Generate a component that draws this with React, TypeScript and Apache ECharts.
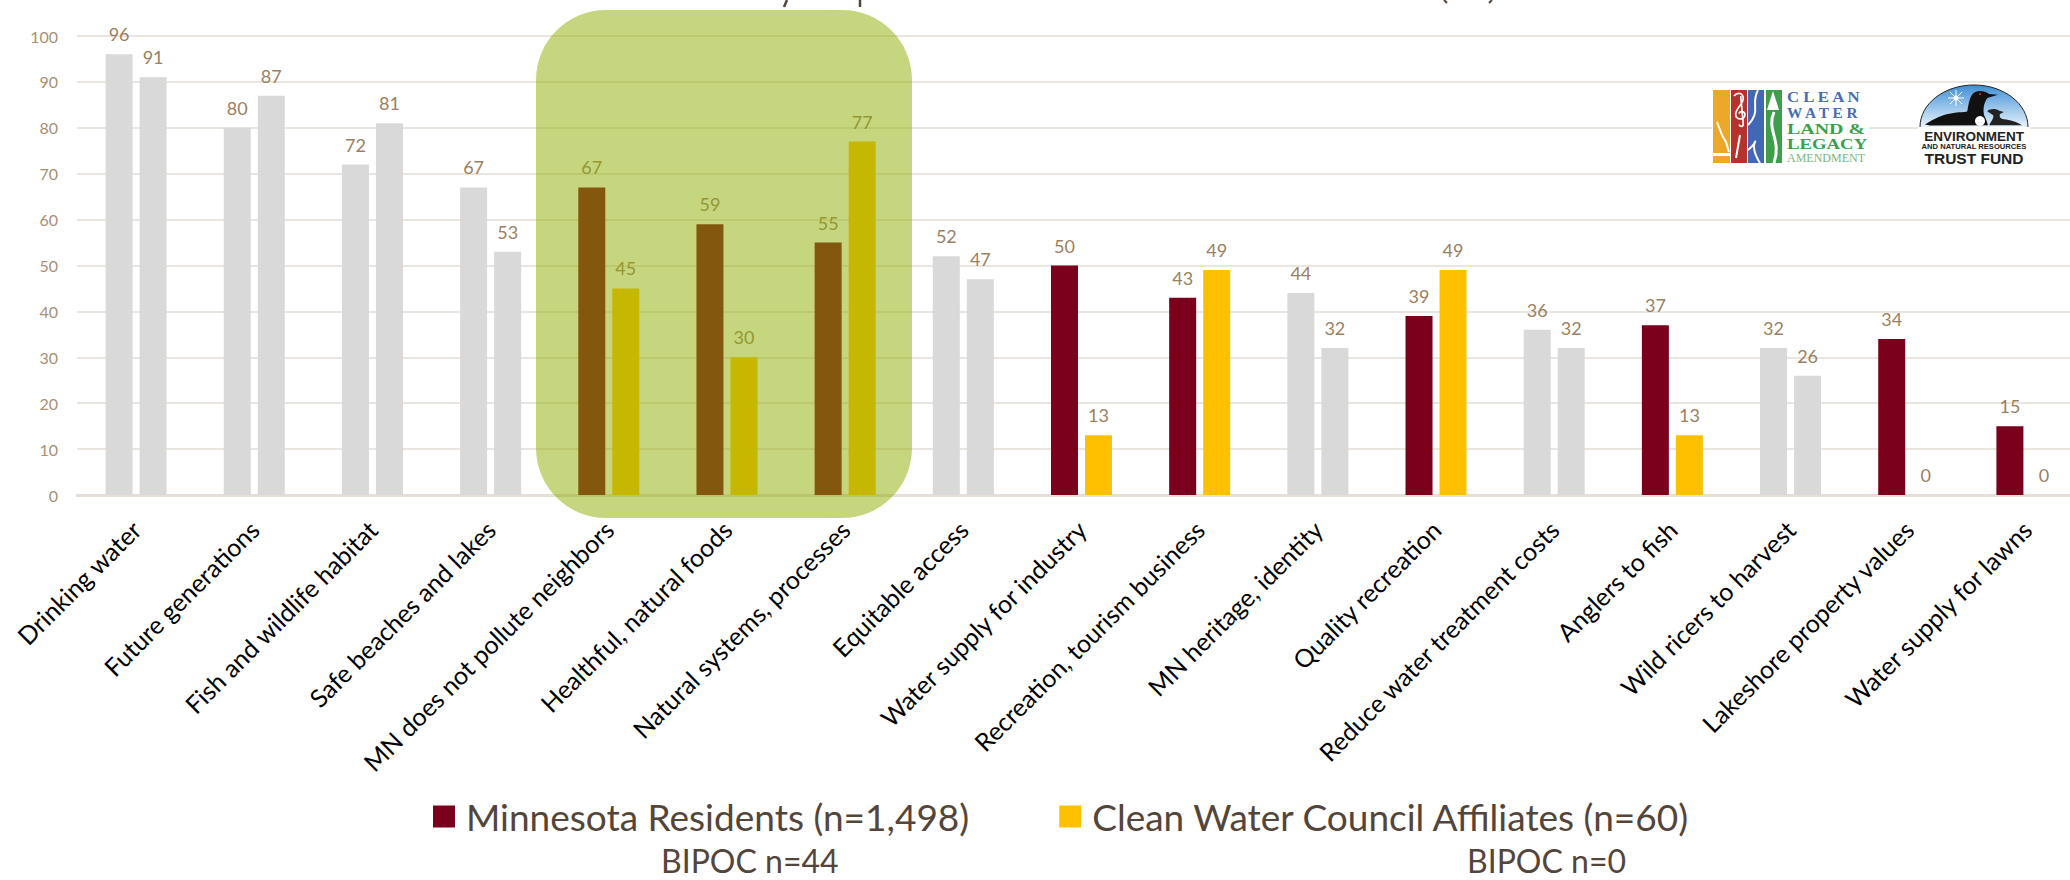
import React, { useEffect, useRef } from "react";
import * as echarts from "echarts";

const categories = [
  "Drinking water", "Future generations", "Fish and wildlife habitat", "Safe beaches and lakes",
  "MN does not pollute neighbors", "Healthful, natural foods", "Natural systems, processes", "Equitable access",
  "Water supply for industry", "Recreation, tourism business", "MN heritage, identity", "Quality recreation",
  "Reduce water treatment costs", "Anglers to fish", "Wild ricers to harvest", "Lakeshore property values",
  "Water supply for lawns",
];
const residents = [96, 80, 72, 67, 67, 59, 55, 52, 50, 43, 44, 39, 36, 37, 32, 34, 15];
const affiliates = [91, 87, 81, 53, 45, 30, 77, 47, 13, 49, 32, 49, 32, 13, 26, 0, 0];
const highlightedResidents = [4, 5, 6, 8, 9, 11, 13, 15, 16];
const highlightedAffiliates = [4, 5, 6, 8, 9, 11, 13];
const residentsName = "Minnesota Residents (n=1,498)";
const affiliatesName = "Clean Water Council Affiliates (n=60)";

const FONT = "Lato";
const RED = "#7b001c";
const GOLD = "#ffc000";
const GREY = "#d9d9d9";
const INK = "#54453a";

const LOON = "M45 140 C70 122 100 108 135 104 C150 102 165 104 172 100 C176 80 178 55 192 44 C205 36 225 38 238 48 L264 50 L232 60 C226 70 218 84 222 110 C228 122 232 132 234 142 L60 143 Z";
const CHICK = "M238 142 C244 128 252 122 250 112 L232 100 C238 92 258 90 268 98 L282 102 L270 108 C268 116 270 122 282 124 C300 126 322 132 336 142 Z";
const CLEF = "M0 0 C8 -10 22 -8 22 6 C22 20 4 28 4 44 C4 58 26 58 26 44 C26 36 14 34 12 42 M16 0 L22 66 C22 74 14 74 12 68";

function bars(values: number[], color: string, highlighted: number[]) {
  return values.map((value, i) => ({
    value,
    itemStyle: { color: highlighted.includes(i) ? color : GREY },
  }));
}

export default function App() {
  const ref = useRef<HTMLDivElement>(null);
  useEffect(() => {
    document.body.style.margin = "0";
    const chart = echarts.init(ref.current!, null, { renderer: "svg" });
    echarts.graphic.registerShape("loon", echarts.graphic.extendPath(LOON, {}));
    echarts.graphic.registerShape("chick", echarts.graphic.extendPath(CHICK, {}));
    echarts.graphic.registerShape("clef", echarts.graphic.extendPath(CLEF, {}));

    const seriesLabel = {
      show: true,
      position: "top" as const,
      distance: 11,
      color: "#9a7f62",
      fontFamily: FONT,
      fontSize: 18,
    };
    const txt = (x: number, y: number, text: string, fontSize: number, fill: string, fontFamily: string, fontWeight = "bold", extra: any = {}, scaleX = 1) => ({
      type: "text", x, y, z: 64, scaleX,
      style: { text, fontSize, fill, fontFamily, fontWeight, textAlign: "left", textVerticalAlign: "middle", ...extra },
    });
    const line = (x1: number, y1: number, x2: number, y2: number, stroke: string, lineWidth: number, z = 60) => ({
      type: "line", z, shape: { x1, y1, x2, y2 }, style: { stroke, lineWidth },
    });
    const SERIF = "Liberation Serif";
    const SANS = "Liberation Sans";

    chart.setOption({
      animation: false,
      backgroundColor: "#ffffff",
      grid: { left: 77, width: 2009, top: 36, height: 459, containLabel: false, outerBoundsMode: "none" },
      legend: {
        left: 433, top: 798, padding: 0, itemWidth: 22, itemHeight: 22, itemGap: 90,
        icon: "rect",
        data: [residentsName, affiliatesName],
        textStyle: { color: INK, fontFamily: FONT, fontSize: 37, padding: [0, 0, 0, 6] },
        selectedMode: false,
      },
      xAxis: {
        type: "category",
        data: categories,
        axisTick: { show: false },
        axisLine: { lineStyle: { color: "#e6dfd7", width: 3 } },
        axisLabel: { rotate: 45, color: "#000000", fontFamily: FONT, fontSize: 25, margin: 30, interval: 0 },
      },
      yAxis: {
        type: "value", min: 0, max: 100, interval: 10,
        axisLine: { show: false }, axisTick: { show: false },
        splitLine: { lineStyle: { color: "#ebe5df", width: 2 } },
        axisLabel: { color: "#a98f72", fontFamily: FONT, fontSize: 16, margin: 19 },
      },
      series: [
        { name: residentsName, type: "bar", barWidth: 27, barGap: "26%", itemStyle: { color: RED }, label: seriesLabel, data: bars(residents, RED, highlightedResidents) },
        { name: affiliatesName, type: "bar", barWidth: 27, barGap: "26%", itemStyle: { color: GOLD }, label: seriesLabel, data: bars(affiliates, GOLD, highlightedAffiliates) },
      ],
      graphic: [
        // highlight band over the three middle categories
        { type: "rect", z: 100, shape: { x: 536, y: 10, width: 376, height: 508, r: 70 }, style: { fill: "rgba(141,173,0,0.5)" } },
        // clipped title fragments at the page's top edge
        line(787, 0, 784, 7, INK, 2.5), line(860, 0, 860, 7, INK, 2.5),
        line(1444, 0, 1447, 3, INK, 2), line(1492, 0, 1489, 3, INK, 2),
        // legend sub-captions
        txt(661, 860, "BIPOC n=44", 32, INK, FONT, "normal"),
        txt(1467, 860, "BIPOC n=0", 32, INK, FONT, "normal"),
        // Clean Water Land & Legacy logo
        { type: "rect", z: 50, shape: { x: 1712, y: 88, width: 157, height: 77 }, style: { fill: "#fff" } },
        { type: "rect", z: 60, shape: { x: 1713, y: 90, width: 17, height: 73 }, style: { fill: "#eea829" } },
        { type: "rect", z: 60, shape: { x: 1731, y: 90, width: 16, height: 73 }, style: { fill: "#b8312a" } },
        { type: "rect", z: 60, shape: { x: 1748, y: 90, width: 16, height: 73 }, style: { fill: "#4168b4" } },
        { type: "rect", z: 60, shape: { x: 1766, y: 90, width: 16, height: 73 }, style: { fill: "#3d9e4c" } },
        { type: "polyline", z: 61, shape: { points: [[1717, 122], [1722, 135], [1726, 142], [1729, 152]] }, style: { stroke: "#fff", lineWidth: 2, fill: "none" } },
        { type: "rect", z: 61, shape: { x: 1713, y: 153, width: 17, height: 3 }, style: { fill: "#fff" } },
        { type: "clef", z: 61, x: 1734, y: 96, scaleX: 0.42, scaleY: 0.42, style: { stroke: "#fff", lineWidth: 4, fill: "none" } },
        line(1740, 135, 1736, 158, "#fff", 2, 61),
        { type: "bezierCurve", z: 61, shape: { x1: 1758, y1: 90, x2: 1748, y2: 125, cpx1: 1750, cpy1: 105, cpx2: 1762, cpy2: 110 }, style: { stroke: "#fff", lineWidth: 2, fill: "none" } },
        { type: "bezierCurve", z: 61, shape: { x1: 1748, y1: 150, x2: 1760, y2: 163, cpx1: 1765, cpy1: 135, cpx2: 1745, cpy2: 140 }, style: { stroke: "#fff", lineWidth: 2, fill: "none" } },
        { type: "polygon", z: 61, shape: { points: [[1773, 91], [1779, 110], [1767, 110]] }, style: { fill: "#fff" } },
        { type: "bezierCurve", z: 61, shape: { x1: 1774, y1: 112, x2: 1774, y2: 163, cpx1: 1766, cpy1: 130, cpx2: 1782, cpy2: 140 }, style: { stroke: "#fff", lineWidth: 3, fill: "none" } },
        txt(1787, 97, "C L E A N", 15, "#4a6cb3", SERIF, "bold", {}, 1.12),
        txt(1787, 113, "W A T E R", 15, "#4a6cb3", SERIF, "bold", {}, 1.02),
        txt(1787, 129, "LAND &", 15, "#3d9e4c", SERIF, "bold", {}, 1.33),
        txt(1787, 144, "LEGACY", 15, "#3d9e4c", SERIF, "bold", {}, 1.25),
        txt(1787, 158, "AMENDMENT", 12, "#79b77f", SERIF, "normal"),
        // Environment and Natural Resources Trust Fund logo
        { type: "rect", z: 50, shape: { x: 1918, y: 120, width: 112, height: 50 }, style: { fill: "#fff" } },
        {
          type: "ellipse", z: 60,
          shape: { cx: 1974, cy: 127, rx: 54, ry: 42 },
          style: {
            stroke: "#222", lineWidth: 1,
            fill: new echarts.graphic.LinearGradient(0, 0, 0, 0.5, [
              { offset: 0, color: "#3f8fd6" }, { offset: 1, color: "#e6f2fb" },
            ]),
          },
        },
        { type: "rect", z: 61, shape: { x: 1918, y: 127, width: 112, height: 44 }, style: { fill: "#fff" } },
        { type: "loon", z: 62, x: 1910, y: 78, scaleX: 1 / 3, scaleY: 1 / 3, style: { fill: "#111" } },
        { type: "chick", z: 62, x: 1910, y: 78, scaleX: 1 / 3, scaleY: 1 / 3, style: { fill: "#222" } },
        { type: "circle", z: 63, shape: { cx: 1980, cy: 121, r: 5 }, style: { fill: "#fff" } },
        { type: "circle", z: 63, shape: { cx: 1980, cy: 94, r: 1 }, style: { fill: "#c33" } },
        { type: "circle", z: 63, shape: { cx: 1956, cy: 98, r: 2.5 }, style: { fill: "#fff" } },
        line(1956, 90, 1956, 106, "#fff", 1, 63), line(1948, 98, 1964, 98, "#fff", 1, 63),
        line(1950, 92, 1962, 104, "#fff", 1, 63), line(1962, 92, 1950, 104, "#fff", 1, 63),
        txt(1974, 136, "ENVIRONMENT", 13.5, "#222", SANS, "bold", { textAlign: "center" }),
        txt(1974, 146, "AND NATURAL RESOURCES", 7.6, "#222", SANS, "bold", { textAlign: "center" }),
        txt(1974, 158, "TRUST FUND", 15.5, "#222", SANS, "bold", { textAlign: "center" }),
      ],
    });
    return () => chart.dispose();
  }, []);
  return <div ref={ref} style={{ position: "fixed", left: 0, top: 0, width: 2070, height: 880 }} />;
}
